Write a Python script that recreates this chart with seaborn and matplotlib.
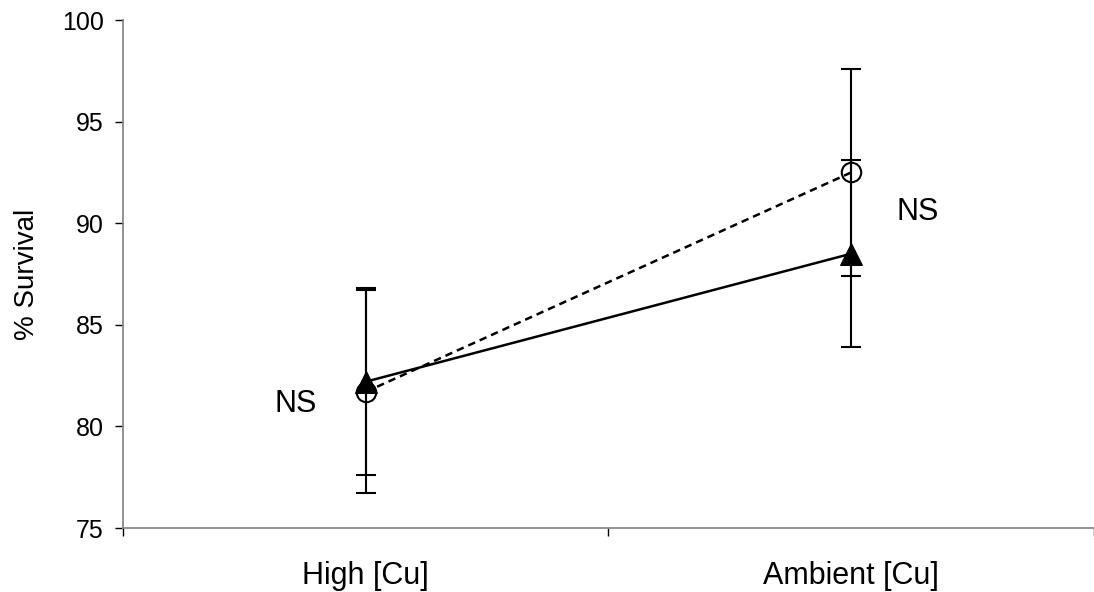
import matplotlib
matplotlib.use("Agg")
import matplotlib.pyplot as plt
import seaborn as sns
import pandas as pd

categories = ["High [Cu]", "Ambient [Cu]"]
series_names = ["Solid (triangle)", "Dashed (circle)"]
triangle_vals = [82.2, 88.5]
triangle_err = [4.6, 4.6]
circle_vals = [81.7, 92.5]
circle_err = [5.0, 5.1]
y_ticks = [75, 80, 85, 90, 95, 100]
ns_labels = ["NS", "NS"]

sns.set_theme(style="white")
plt.rcParams['font.family'] = ['Liberation Sans', 'DejaVu Sans']

fig = plt.figure(figsize=(10.94, 5.92), dpi=100)
ax = fig.add_axes([0.1124, 0.1081, 0.8876, 0.8581])

xs = list(range(len(categories)))
df = pd.DataFrame({
    "x": xs + xs,
    "y": triangle_vals + circle_vals,
    "series": [series_names[0]] * 2 + [series_names[1]] * 2,
})

# error bars
ax.errorbar(xs, circle_vals, yerr=circle_err, fmt='none', ecolor='black',
            elinewidth=1.5, capsize=7, capthick=1.5, zorder=2)
ax.errorbar(xs, triangle_vals, yerr=triangle_err, fmt='none', ecolor='black',
            elinewidth=1.5, capsize=7, capthick=1.5, zorder=2)

sns.lineplot(data=df[df.series == series_names[1]], x="x", y="y", ax=ax,
             color='black', linewidth=1.8, linestyle=(0, (3, 2)),
             marker='o', markersize=14, markerfacecolor='none',
             markeredgecolor='black', markeredgewidth=1.5, legend=False, zorder=3)
sns.lineplot(data=df[df.series == series_names[0]], x="x", y="y", ax=ax,
             color='black', linewidth=1.8, linestyle='-',
             marker='^', markersize=16, markerfacecolor='black',
             markeredgecolor='black', legend=False, zorder=4)

ax.set_xlim(-0.5, 1.5)
ax.set_ylim(75, 100)
ax.set_yticks(y_ticks)
ax.set_yticklabels([str(t) for t in y_ticks])
ax.set_xticks(xs)
ax.set_xticklabels(categories)
ax.set_xticks([-0.5, 0.5, 1.5], minor=True)
ax.tick_params(axis='x', which='major', length=0, pad=24, labelsize=22,
               colors='black', labelcolor='black')
ax.tick_params(axis='x', which='minor', length=6, width=1, direction='out', color='black', bottom=True)
ax.tick_params(axis='y', which='major', length=6, width=1, direction='out', pad=8,
               labelsize=18, color='black', labelcolor='black', left=True)

ax.set_xlabel("")
ax.set_ylabel("% Survival", fontsize=20, color='black')
ax.yaxis.set_label_coords(-0.0855, 0.5)

for s in ['top', 'right']:
    ax.spines[s].set_visible(False)
for s in ['left', 'bottom']:
    ax.spines[s].set_color('#808080')
    ax.spines[s].set_linewidth(1.2)

ax.text(-0.144, 81.1, ns_labels[0], fontsize=22, ha='center', va='center', color='black')
ax.text(1.137, 90.55, ns_labels[1], fontsize=22, ha='center', va='center', color='black')

fig.savefig("out.png", dpi=100)
